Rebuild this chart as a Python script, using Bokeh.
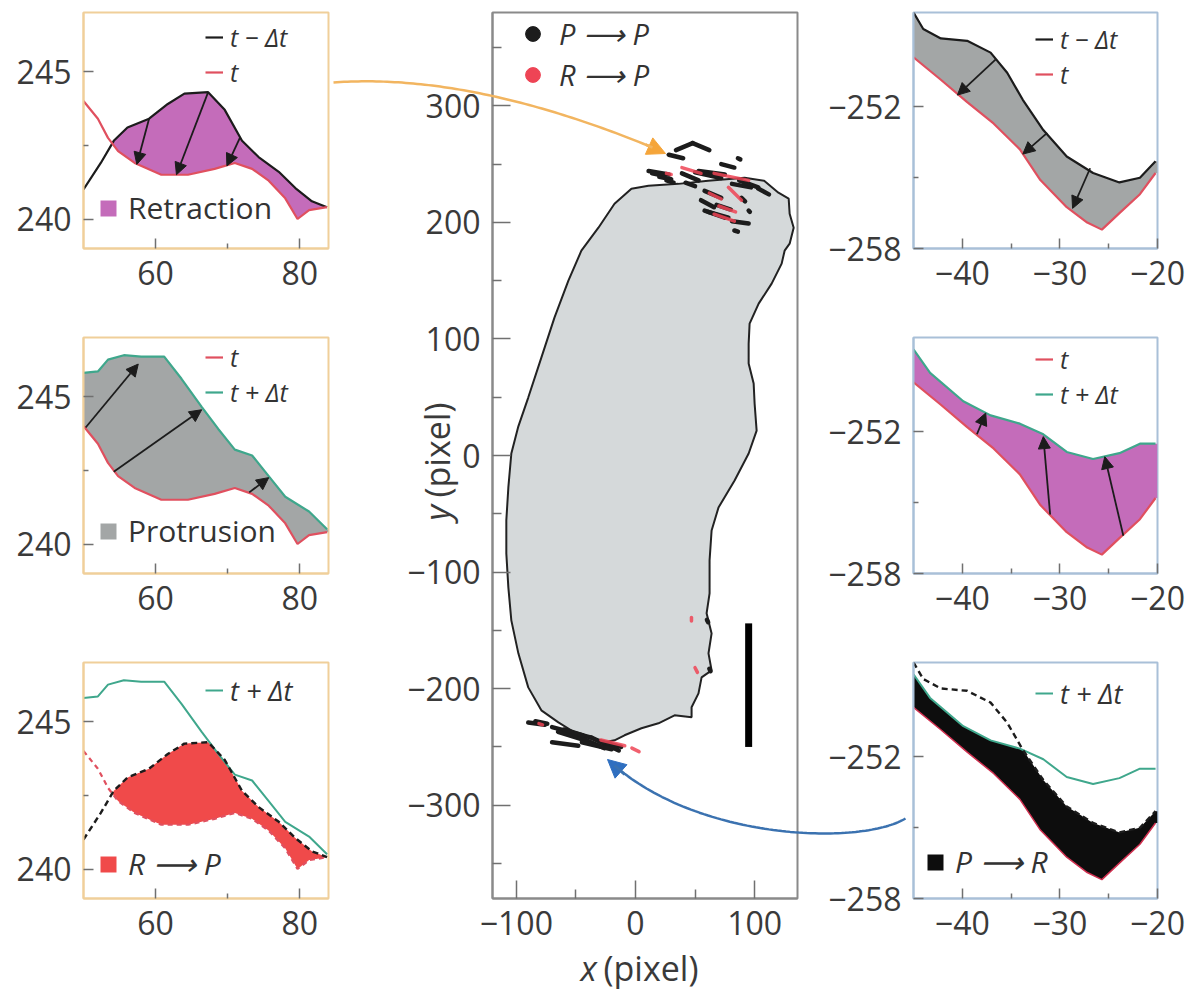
import numpy as np
from bokeh.plotting import figure
from bokeh.models import (FixedTicker, Range1d, Legend, LegendItem, Arrow,
                          NormalHead, ColumnDataSource)
from bokeh.core.properties import value
from bokeh.layouts import row, column
from bokeh.embed import file_html
from bokeh.resources import INLINE

# ---------------- data ----------------
# left column: edge segment near the top of the cell (pixel units)
L_tm_x = [50.0, 52.4, 54.2, 56.1, 59.1, 61.7, 64.0, 67.3, 69.6, 72.0, 74.3, 77.1, 79.4, 81.7, 83.8]
L_tm_y = [241.0, 241.9, 242.65, 243.1, 243.4, 243.9, 244.25, 244.3, 243.7, 242.65, 242.1, 241.6, 241.05, 240.6, 240.4]
L_t_x = [50.0, 52.0, 53.4, 54.8, 57.1, 60.8, 64.5, 68.2, 71.0, 73.4, 75.7, 78.0, 79.7, 81.3, 83.8]
L_t_y = [244.0, 243.4, 242.75, 242.3, 241.9, 241.5, 241.5, 241.7, 241.9, 241.7, 241.3, 240.7, 240.0, 240.3, 240.4]
L_tp_x = [50.0, 52.0, 53.4, 55.6, 58.0, 61.2, 63.6, 66.4, 68.7, 71.0, 73.4, 75.7, 78.0, 81.3, 83.8]
L_tp_y = [245.8, 245.85, 246.25, 246.4, 246.35, 246.35, 245.6, 244.65, 243.9, 243.2, 243.0, 242.3, 241.6, 241.1, 240.5]
L_retr_x0 = [59.1, 67.3, 71.7]
L_retr_y0 = [243.4, 244.3, 242.75]
L_retr_x1 = [57.4, 62.9, 69.9]
L_retr_y1 = [241.85, 241.5, 241.8]
L_prot_x0 = [50.3, 54.2, 73.0]
L_prot_y0 = [243.95, 242.45, 241.75]
L_prot_x1 = [57.6, 66.4, 75.7]
L_prot_y1 = [246.1, 244.55, 242.25]

# right column: edge segment near the bottom of the cell
R_tm_x = [-45.0, -44.0, -42.2, -39.5, -37.1, -35.4, -33.8, -31.7, -29.3, -26.6, -23.9, -21.8, -20.2]
R_tm_y = [-248.0, -248.7, -249.1, -249.2, -249.7, -250.55, -251.7, -252.98, -254.1, -254.8, -255.2, -255.0, -254.3]
R_t_x = [-45.0, -42.2, -39.5, -36.8, -34.1, -32.0, -29.3, -27.2, -25.7, -23.9, -21.8, -20.2]
R_t_y = [-249.9, -250.85, -251.8, -252.7, -253.8, -255.1, -256.25, -256.9, -257.2, -256.5, -255.7, -254.8]
R_tp_x = [-45.0, -43.3, -39.9, -37.1, -34.1, -31.7, -29.3, -26.6, -23.9, -21.8, -20.2]
R_tp_y = [-248.5, -249.5, -250.7, -251.3, -251.65, -252.1, -252.85, -253.15, -252.9, -252.5, -252.5]
R_retr_x0 = [-36.6, -31.3, -26.9]
R_retr_y0 = [-250.0, -253.1, -254.6]
R_retr_x1 = [-40.5, -33.8, -28.7]
R_retr_y1 = [-251.5, -254.0, -256.3]
R_prot_x0 = [-38.5, -31.0, -23.5]
R_prot_y0 = [-252.1, -255.5, -256.4]
R_prot_x1 = [-37.6, -31.7, -25.4]
R_prot_y1 = [-251.2, -252.2, -253.05]

# centre: cell outline
cell_x = [-3.4, 10.9, 36.0, 61.0, 91.6, 108.0, 120.0, 128.6, 129.4, 132.8, 129.4, 125.2, 122.7,
          114.3, 103.4, 95.8, 95.0, 95.0, 99.2, 100.0, 101.7, 95.0, 83.2, 69.7, 63.9, 62.2, 62.2,
          59.7, 63.9, 61.3, 63.9, 55.5, 52.9, 47.1, 47.1, 32.8, 19.3, 5.0, -9.2, -17.6, -26.0,
          -37.0, -51.3, -64.7, -79.0, -90.0, -98.3, -104.2, -106.7, -108.4, -108.4, -106.7,
          -104.2, -98.3, -90.0, -79.0, -68.0, -56.3, -45.4, -31.1, -17.6]
cell_y = [228.9, 231.4, 233.0, 235.7, 238.3, 235.7, 225.4, 220.3, 207.4, 195.4, 181.7, 175.7, 164.6,
          147.4, 130.3, 113.1, 96.0, 78.9, 61.7, 44.6, 21.4, 1.7, -21.4, -44.6, -64.3, -90.0, -118.3,
          -135.4, -152.6, -169.7, -184.3, -190.3, -204.0, -216.0, -224.6, -222.9, -229.7, -234.0,
          -240.0, -244.3, -246.0, -241.7, -237.4, -228.9, -218.6, -198.9, -169.7, -141.4, -113.1,
          -84.0, -55.7, -27.4, 1.7, 25.0, 49.7, 84.0, 118.3, 150.0, 175.7, 195.4, 216.0]
# P -> P edge pixels (short strokes)
pp_x0 = [34, 48, 28, 11, 14, 39, 53, 50, 72, 86, 81, 87, 103, 58, 55, 58, 61, 81, 95, 83, 26, 42, 89, 20, 68,
         -90, -70, -65, -70, -51, -37, -45, -30, -60, -84, 60, 62]
pp_y0 = [262, 268, 258, 244, 242, 242, 244, 243, 250, 255, 233, 236, 229, 227, 219, 210, 209, 201, 210, 193, 236, 234, 221, 239, 215,
         -229, -233, -237, -246, -240, -242, -246, -245, -235, -228, -141, -183]
pp_x1 = [48, 62, 40, 28, 24, 53, 75, 72, 83, 88, 97, 103, 112, 72, 66, 75, 78, 95, 96, 86, 32, 50, 92, 30, 80,
         -76, -37, -40, -48, -26, -14, -20, -12, -44, -74, 61, 63]
pp_y1 = [268, 262, 255, 241, 240, 236, 241, 238, 247, 254, 230, 230, 224, 221, 213, 204, 204, 199, 209, 192, 234, 231, 218, 237, 211,
         -231, -242, -245, -249, -251, -253, -252, -250, -240, -230, -143, -185]
# R -> P edge pixels
rp_x0 = [39, 66, 66, 78, 26, 62, 47, 50, -81, -29, -3, 70]
rp_y0 = [247, 242, 207, 230, 242, 225, -139, -182, -230, -244, -251, 214]
rp_x1 = [55, 95, 83, 89, 30, 72, 47, 52, -78, -9, 3, 84]
rp_y1 = [242, 236, 201, 219, 241, 220, -142, -186, -231, -249, -254, 209]
# scale bar
bar_x = [95]
bar_y0 = [-144]
bar_y1 = [-250]

# ticks
L_xticks, L_xminor, L_yticks, L_yminor = [60, 80], [70], [240, 245], [242.5]
R_xticks, R_xminor, R_yticks, R_yminor = [-40, -30, -20], [-35, -25], [-258, -252], [-255]
C_xticks, C_xminor = [-100, 0, 100], [-50, 50]
C_yticks = [-300, -200, -100, 0, 100, 200, 300]
C_yminor = [-350, -250, -150, -50, 50, 150, 250, 350]

# ---------------- style ----------------
FONT = "Open Sans"
TICK_FS = "32px"
ORANGE_FRAME = "#f0cf9a"
BLUE_FRAME = "#a9c0d8"
BLACK = "#1c1c1c"
RED = "#e0505f"
TEAL = "#3fa78c"
MAGENTA = "#c46cba"
GREY = "#a3a6a6"
BRIGHT_RED = "#f04a4a"


def minus(v):
    return f"{v:g}".replace("-", "\u2212")


def panel(w, h, xr, yr, left, right, bottom, frame_col, xt, xm, yt, ym, tin=10, tmin=5):
    p = figure(width=w, height=h, x_range=Range1d(*xr), y_range=Range1d(*yr),
               output_backend="svg", toolbar_location=None, title=None,
               min_border_left=left, min_border_right=right, min_border_top=12,
               min_border_bottom=bottom, background_fill_color="white",
               border_fill_color="white")
    p.grid.visible = False
    p.outline_line_color = frame_col
    p.outline_line_width = 2
    p.xaxis.ticker = FixedTicker(ticks=xt, minor_ticks=xm)
    p.yaxis.ticker = FixedTicker(ticks=yt, minor_ticks=ym)
    p.xaxis.major_label_overrides = {v: minus(v) for v in xt}
    p.yaxis.major_label_overrides = {v: minus(v) for v in yt}
    for ax in p.axis:
        ax.axis_line_color = frame_col
        ax.axis_line_width = 2
        ax.major_tick_in = tin
        ax.major_tick_out = 0
        ax.minor_tick_in = tmin
        ax.minor_tick_out = 0
        ax.major_tick_line_color = "#707070"
        ax.minor_tick_line_color = "#707070"
        ax.major_tick_line_width = 1.5
        ax.minor_tick_line_width = 1.5
        ax.major_label_text_font = FONT
        ax.major_label_text_font_size = TICK_FS
        ax.major_label_text_color = "#3a3a3a"
        ax.major_label_standoff = 12
    return p


def leg_row(p, label, rend, frame, left_px, cy_px, style="italic", gw=18, gh=16, standoff=7, fs=25):
    fl, ft, fh = frame
    row_h = 1.4 * fs
    loc = (left_px - fl, ft + fh - (cy_px + row_h / 2))
    lg = Legend(items=[LegendItem(label=label, renderers=[rend])], location=loc,
                border_line_alpha=0, background_fill_alpha=0, label_text_font=FONT,
                label_text_font_size=f"{fs}px", label_text_font_style=style,
                label_text_color="#333333", glyph_width=gw, glyph_height=gh,
                margin=0, padding=0, label_standoff=standoff, label_height=10, spacing=0)
    p.add_layout(lg)


def arrows(p, x0, y0, x1, y1):
    src = ColumnDataSource(dict(x0=x0, y0=y0, x1=x1, y1=y1))
    p.add_layout(Arrow(end=NormalHead(size=12, fill_color=BLACK, line_color=BLACK),
                       x_start="x0", y_start="y0", x_end="x1", y_end="y1",
                       source=src, line_color=BLACK, line_width=1.8))


# frames in page pixels: (left, top, height)
FL1, FL2, FL3 = (83, 12, 236), (83, 337, 236), (83, 662, 236)
FR1, FR2, FR3 = (913, 12, 236), (913, 337, 236), (913, 662, 236)
FC = (492, 12, 886)

# ---------------- left column ----------------
gl = np.linspace(50, 84, 600)
l_tm = np.interp(gl, L_tm_x, L_tm_y)
l_t = np.interp(gl, L_t_x, L_t_y)
l_tp = np.interp(gl, L_tp_x, L_tp_y)

l1 = panel(330, 325, (50, 84), (239, 247), 83, 2, 77, ORANGE_FRAME, L_xticks, L_xminor, L_yticks, L_yminor)
f1 = l1.varea(x=gl, y1=l_t, y2=np.maximum(l_t, l_tm), fill_color=MAGENTA)
b1 = l1.line(L_tm_x, L_tm_y, line_color=BLACK, line_width=2.2)
r1 = l1.line(L_t_x, L_t_y, line_color=RED, line_width=2.2)
arrows(l1, L_retr_x0, L_retr_y0, L_retr_x1, L_retr_y1)
leg_row(l1, "t \u2212 \u0394t", b1, FL1, 205, 36)
leg_row(l1, "t", r1, FL1, 205, 71)
leg_row(l1, "Retraction", f1, FL1, 98, 207, style="normal", gw=20, gh=20, standoff=10, fs=30)

l2 = panel(330, 325, (50, 84), (239, 247), 83, 2, 77, ORANGE_FRAME, L_xticks, L_xminor, L_yticks, L_yminor)
f2 = l2.varea(x=gl, y1=l_t, y2=np.maximum(l_t, l_tp), fill_color=GREY)
t2 = l2.line(L_tp_x, L_tp_y, line_color=TEAL, line_width=2.2)
r2 = l2.line(L_t_x, L_t_y, line_color=RED, line_width=2.2)
arrows(l2, L_prot_x0, L_prot_y0, L_prot_x1, L_prot_y1)
leg_row(l2, "t", r2, FL2, 205, 356)
leg_row(l2, "t + \u0394t", t2, FL2, 205, 391)
leg_row(l2, "Protrusion", f2, FL2, 98, 530, style="normal", gw=20, gh=20, standoff=10, fs=30)

l3 = panel(330, 341, (50, 84), (239, 247), 83, 2, 93, ORANGE_FRAME, L_xticks, L_xminor, L_yticks, L_yminor)
f3 = l3.varea(x=gl, y1=l_t, y2=np.maximum(l_t, np.minimum(l_tm, l_tp)), fill_color=BRIGHT_RED)
t3 = l3.line(L_tp_x, L_tp_y, line_color=TEAL, line_width=2.0)
l3.line(L_t_x, L_t_y, line_color=RED, line_width=2.2, line_dash="5 4")
l3.line(L_tm_x, L_tm_y, line_color=BLACK, line_width=2.4, line_dash="6 4")
leg_row(l3, "t + \u0394t", t3, FL3, 205, 690, fs=27)
leg_row(l3, "R \u27f6 P", f3, FL3, 98, 863, gw=20, gh=20, standoff=10, fs=30)

# ---------------- right column ----------------
gr = np.linspace(-45, -20, 600)
r_tm = np.interp(gr, R_tm_x, R_tm_y)
r_t = np.interp(gr, R_t_x, R_t_y)
r_tp = np.interp(gr, R_tp_x, R_tp_y)

q1 = panel(372, 325, (-45, -20), (-258, -248), 98, 30, 77, BLUE_FRAME, R_xticks, R_xminor, R_yticks, R_yminor)
q1.varea(x=gr, y1=r_t, y2=np.maximum(r_t, r_tm), fill_color=GREY)
qb1 = q1.line(R_tm_x, R_tm_y, line_color=BLACK, line_width=2.2)
qr1 = q1.line(R_t_x, R_t_y, line_color=RED, line_width=2.2)
arrows(q1, R_retr_x0, R_retr_y0, R_retr_x1, R_retr_y1)
leg_row(q1, "t \u2212 \u0394t", qb1, FR1, 1035, 38)
leg_row(q1, "t", qr1, FR1, 1035, 73)

q2 = panel(372, 325, (-45, -20), (-258, -248), 98, 30, 77, BLUE_FRAME, R_xticks, R_xminor, R_yticks, R_yminor)
q2.varea(x=gr, y1=r_t, y2=np.maximum(r_t, r_tp), fill_color=MAGENTA)
qt2 = q2.line(R_tp_x, R_tp_y, line_color=TEAL, line_width=2.2)
qr2 = q2.line(R_t_x, R_t_y, line_color=RED, line_width=2.2)
arrows(q2, R_prot_x0, R_prot_y0, R_prot_x1, R_prot_y1)
leg_row(q2, "t", qr2, FR2, 1035, 358)
leg_row(q2, "t + \u0394t", qt2, FR2, 1035, 393)

q3 = panel(372, 341, (-45, -20), (-258, -248), 98, 30, 93, BLUE_FRAME, R_xticks, R_xminor, R_yticks, R_yminor)
qf3 = q3.varea(x=gr, y1=r_t, y2=np.maximum(r_t, np.minimum(r_tm, r_tp)), fill_color="#0d0d0d")
qt3 = q3.line(R_tp_x, R_tp_y, line_color=TEAL, line_width=2.0)
q3.line(R_tm_x, R_tm_y, line_color=BLACK, line_width=2.4, line_dash="6 4")
q3.line(R_t_x, R_t_y, line_color="#d03050", line_width=1.5)
leg_row(q3, "t + \u0394t", qt3, FR3, 1035, 693, fs=27)
leg_row(q3, "P \u27f6 R", qf3, FR3, 925, 861, gw=20, gh=20, standoff=10, fs=30)

# ---------------- centre ----------------
c = panel(485, 991, (-120, 136), (-380, 380), 162, 18, 93, "#8a8a8a", C_xticks, C_xminor, C_yticks, C_yminor,
          tin=18, tmin=9)
c.patch(cell_x, cell_y, fill_color="#d5d9da", line_color="#222222", line_width=2)
c.segment(pp_x0, pp_y0, pp_x1, pp_y1, line_color=BLACK, line_width=4.5, line_cap="round")
c.segment(rp_x0, rp_y0, rp_x1, rp_y1, line_color="#ee4455", line_width=3.5, line_cap="round", line_alpha=0.85)
c.segment(bar_x, bar_y0, bar_x, bar_y1, line_color="black", line_width=7)
lp = c.scatter([1000], [1000], size=14, color=BLACK)
lr = c.scatter([1000], [1000], size=14, color="#ee4455")
leg_row(c, "P \u27f6 P", lp, FC, 514, 33, gw=37, gh=37, standoff=8, fs=29)
leg_row(c, "R \u27f6 P", lr, FC, 514, 74, gw=37, gh=37, standoff=8, fs=29)


# page -> data conversions for the connectors and centre axis titles
def cx(px):
    return -120 + (np.asarray(px, float) - 492) * 256 / 305


def cy(py):
    return 380 - (np.asarray(py, float) - 12) * 760 / 886


def qx(px):
    return -45 + (np.asarray(px, float) - 913) * 25 / 244


def qy(py):
    return -248 - (np.asarray(py, float) - 662) * 10 / 236


def bez(pts, n=80):
    t = np.linspace(0, 1, n)[:, None]
    P = np.array(pts, float)
    if len(P) == 3:
        B = (1 - t) ** 2 * P[0] + 2 * (1 - t) * t * P[1] + t ** 2 * P[2]
    else:
        B = (1 - t) ** 3 * P[0] + 3 * (1 - t) ** 2 * t * P[1] + 3 * (1 - t) * t ** 2 * P[2] + t ** 3 * P[3]
    return B[:, 0], B[:, 1]


# orange connector
ox, oy = bez([(333, 82), (470, 72), (652, 147)])
c.line(cx(ox), cy(oy), line_color="#f2b560", line_width=2.5, level="overlay")
c.add_layout(Arrow(end=NormalHead(size=18, fill_color="#f5a53a", line_color="#f5a53a"),
                   x_start=float(cx(645)), y_start=float(cy(144)), x_end=float(cx(665)), y_end=float(cy(153)),
                   line_color="#f5a53a", line_width=2.5))

# blue connector
bx, by = bez([(905, 818), (860, 845), (700, 840), (614, 765)])
c.line(cx(bx), cy(by), line_color="#3b72b0", line_width=2.5, level="overlay")
q3.line(qx(bx), qy(by), line_color="#3b72b0", line_width=2.5, level="overlay")
c.add_layout(Arrow(end=NormalHead(size=18, fill_color="#2f6fc0", line_color="#2f6fc0"),
                   x_start=float(cx(624)), y_start=float(cy(774)), x_end=float(cx(607)), y_end=float(cy(759)),
                   line_color="#3b72b0", line_width=2.5))

# axis titles of the centre panel (mixed italic), drawn as overlay text
c.text(x=[float(cx(580))], y=[float(cy(967))], text=["x"], text_font=value(FONT), text_font_size="34px",
       text_font_style="italic", text_color="#3a3a3a", text_baseline="middle", text_align="left", level="overlay")
c.text(x=[float(cx(603))], y=[float(cy(967))], text=["(pixel)"], text_font=value(FONT), text_font_size="34px",
       text_color="#3a3a3a", text_baseline="middle", text_align="left", level="overlay")
c.text(x=[float(cx(436))], y=[float(cy(520))], text=["y"], text_font=value(FONT), text_font_size="34px",
       text_font_style="italic", text_color="#3a3a3a", text_baseline="middle", text_align="left",
       angle=np.pi / 2, level="overlay")
c.text(x=[float(cx(436))], y=[float(cy(497))], text=["(pixel)"], text_font=value(FONT), text_font_size="34px",
       text_color="#3a3a3a", text_baseline="middle", text_align="left", angle=np.pi / 2, level="overlay")

layout = row(column(l1, l2, l3), c, column(q1, q2, q3))
open("out.html", "w").write(file_html(layout, INLINE))
